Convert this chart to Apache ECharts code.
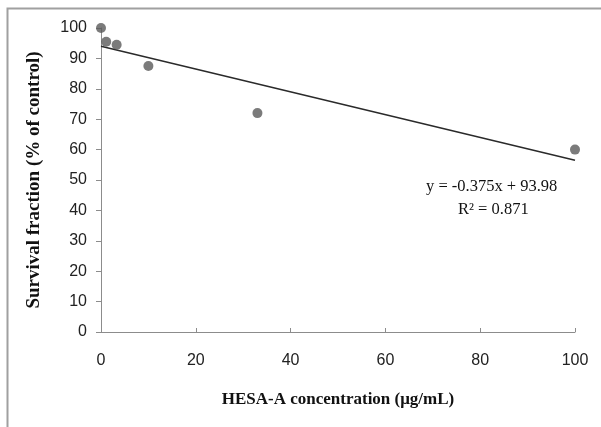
<!DOCTYPE html>
<html>
<head>
<meta charset="utf-8">
<script src="https://cdn.jsdelivr.net/npm/echarts@6/dist/echarts.min.js"></script>
<style>
html,body{margin:0;padding:0;background:#fff;}
#chart{width:601px;height:427px;}
</style>
</head>
<body>
<div id="chart"></div>
<script>
// Data
var concentrations = [0, 1.1, 3.3, 10, 33, 100];
var survival = [100, 95.5, 94.5, 87.5, 72, 60];
// Linear trendline endpoints (y = -0.375x + 93.98)
var trendX = [0, 100];
var trendY = [93.98, 56.48];
var xTicks = [0, 20, 40, 60, 80, 100];
var yTicks = [0, 10, 20, 30, 40, 50, 60, 70, 80, 90, 100];
var equationText = 'y = -0.375x + 93.98';
var r2Text = 'R² = 0.871';
var xTitle = 'HESA-A concentration (μg/mL)';
var yTitle = 'Survival fraction (% of control)';

var chart = echarts.init(document.getElementById('chart'), null, {renderer: 'canvas'});
var pts = concentrations.map(function (x, i) { return [x, survival[i]]; });
var trend = trendX.map(function (x, i) { return [x, trendY[i]]; });

chart.setOption({
  animation: false,
  backgroundColor: '#ffffff',
  grid: {left: 101, right: 26, top: 28, bottom: 95, containLabel: false},
  xAxis: {
    type: 'value', min: xTicks[0], max: xTicks[xTicks.length - 1], interval: 20,
    name: xTitle, nameLocation: 'middle', nameGap: 59,
    nameTextStyle: {fontFamily: 'Liberation Serif', fontWeight: 'bold', fontSize: 17, color: '#111'},
    axisLine: {show: true, onZero: false, lineStyle: {color: '#8c8c8c', width: 1}},
    axisTick: {show: true, inside: true, length: 4, lineStyle: {color: '#8c8c8c'}},
    axisLabel: {margin: 21, fontFamily: 'Liberation Sans', fontSize: 16, color: '#222'},
    splitLine: {show: false}
  },
  yAxis: {
    type: 'value', min: yTicks[0], max: yTicks[yTicks.length - 1], interval: 10,
    name: yTitle, nameLocation: 'middle', nameGap: 57, nameRotate: 90,
    nameTextStyle: {fontFamily: 'Liberation Serif', fontWeight: 'bold', fontSize: 19, color: '#111'},
    axisLine: {show: true, onZero: false, lineStyle: {color: '#8c8c8c', width: 1}},
    axisTick: {show: true, inside: false, length: 5, lineStyle: {color: '#8c8c8c'}},
    axisLabel: {margin: 14, fontFamily: 'Liberation Sans', fontSize: 16, color: '#222'},
    splitLine: {show: false}
  },
  graphic: [
    {type: 'rect', left: 5, top: 6, shape: {width: 700, height: 500},
     style: {fill: 'none', stroke: '#a0a0a0', lineWidth: 2}, silent: true, z: -1},
    {type: 'text', left: 426, top: 178,
     style: {text: equationText, font: '16.5px "Liberation Serif"', fill: '#111'}},
    {type: 'text', left: 458, top: 201,
     style: {text: r2Text, font: '16.5px "Liberation Serif"', fill: '#111'}}
  ],
  series: [
    {type: 'line', data: trend, symbol: 'none', lineStyle: {color: '#2a2a2a', width: 1.5}, z: 2},
    {type: 'scatter', data: pts, symbol: 'circle', symbolSize: 10,
     itemStyle: {color: '#5a5a5a'}, z: 3}
  ]
});
</script>
</body>
</html>
